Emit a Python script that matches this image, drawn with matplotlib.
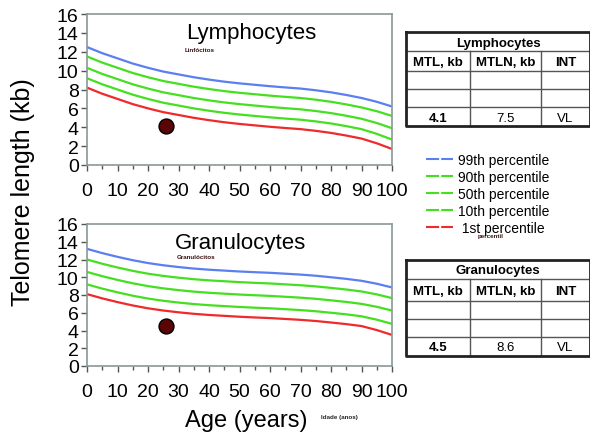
import matplotlib
matplotlib.use("Agg")
import matplotlib.pyplot as plt
from matplotlib.lines import Line2D

plt.rcParams['font.family'] = ['Liberation Sans', 'DejaVu Sans']

ages = [0, 5, 10, 15, 20, 25, 30, 35, 40, 45, 50, 55, 60, 65, 70, 75, 80, 85, 90, 95, 100]
pct_labels = ["99th percentile", "90th percentile", "50th percentile", "10th percentile", " 1st percentile"]
pct_colors = ["#5b7ff0", "#44e020", "#44e020", "#44e020", "#ee2a2a"]

lymph = {
    "99": [12.5, 11.85, 11.3, 10.75, 10.3, 9.9, 9.6, 9.3, 9.05, 8.83, 8.65, 8.5, 8.35, 8.22, 8.1, 7.92, 7.7, 7.42, 7.1, 6.7, 6.2],
    "90": [11.5, 10.85, 10.3, 9.75, 9.3, 8.9, 8.6, 8.3, 8.05, 7.83, 7.65, 7.5, 7.35, 7.22, 7.1, 6.92, 6.7, 6.42, 6.1, 5.7, 5.2],
    "50": [10.3, 9.65, 9.1, 8.55, 8.1, 7.7, 7.4, 7.1, 6.85, 6.63, 6.45, 6.3, 6.15, 6.02, 5.9, 5.72, 5.5, 5.22, 4.9, 4.45, 3.9],
    "10": [9.2, 8.55, 8.0, 7.45, 7.0, 6.6, 6.3, 6.0, 5.75, 5.53, 5.35, 5.2, 5.05, 4.92, 4.8, 4.62, 4.4, 4.12, 3.8, 3.3, 2.7],
    "1":  [8.2, 7.55, 7.0, 6.45, 6.0, 5.6, 5.3, 5.0, 4.75, 4.53, 4.35, 4.2, 4.05, 3.92, 3.8, 3.62, 3.4, 3.12, 2.8, 2.3, 1.7],
}
gran = {
    "99": [13.2, 12.72, 12.3, 11.92, 11.6, 11.35, 11.15, 10.98, 10.85, 10.75, 10.65, 10.57, 10.5, 10.4, 10.3, 10.17, 10.0, 9.82, 9.6, 9.27, 8.85],
    "90": [12.0, 11.52, 11.1, 10.72, 10.4, 10.15, 9.95, 9.78, 9.65, 9.55, 9.45, 9.37, 9.3, 9.2, 9.1, 8.97, 8.8, 8.62, 8.4, 8.07, 7.65],
    "50": [10.6, 10.12, 9.7, 9.32, 9.0, 8.75, 8.55, 8.38, 8.25, 8.15, 8.05, 7.97, 7.9, 7.8, 7.7, 7.57, 7.4, 7.22, 7.0, 6.67, 6.25],
    "10": [9.2, 8.72, 8.3, 7.92, 7.6, 7.35, 7.15, 6.98, 6.85, 6.75, 6.65, 6.57, 6.5, 6.4, 6.3, 6.17, 6.0, 5.82, 5.6, 5.22, 4.75],
    "1":  [8.1, 7.62, 7.2, 6.82, 6.5, 6.25, 6.05, 5.88, 5.75, 5.65, 5.55, 5.47, 5.4, 5.3, 5.2, 5.07, 4.9, 4.72, 4.5, 4.05, 3.5],
}
patient_age = 26
lymph_patient = 4.1
gran_patient = 4.5

table_header = ["MTL, kb", "MTLN, kb", "INT"]
lymph_row = ["4.1", "7.5", "VL"]
gran_row = ["4.5", "8.6", "VL"]

W, H = 590, 435
fig = plt.figure(figsize=(W / 100, H / 100), dpi=100)
fig.patch.set_facecolor("white")


def fr(x0, y0, x1, y1):
    return [x0 / W, 1 - y1 / H, (x1 - x0) / W, (y1 - y0) / H]


frame_col = "#8a9898"


def setup(ax, data, pval, title, subtitle, tx, ty, sx, sy):
    for key, col in zip(["99", "90", "50", "10", "1"], pct_colors):
        ax.plot(ages, data[key], color=col, lw=1.6, solid_capstyle="butt")
    ax.scatter([patient_age], [pval], s=115, color="#5a0505", edgecolor="black",
               linewidth=1.0, zorder=5)
    ax.set_xlim(0, 100)
    ax.set_ylim(0, 16)
    ax.set_xticks(range(0, 101, 10))
    ax.set_xticks(range(0, 101, 5), minor=True)
    ax.set_yticks(range(0, 17, 2))
    for s in ax.spines.values():
        s.set_color(frame_col)
        s.set_linewidth(1.2)
    ax.tick_params(axis="both", which="major", labelsize=14, length=4,
                   width=1, color="#555555", pad=2)
    ax.tick_params(axis="x", which="major", pad=8)
    ax.tick_params(axis="x", which="minor", length=3, width=1, color="#555555")
    fig.text(tx / W, 1 - ty / H, title, fontsize=16, ha="center", va="center")
    fig.text(sx / W, 1 - sy / H, subtitle, fontsize=4.5, fontweight="bold",
             ha="left", va="center", color="#3a1010")


ax1 = fig.add_axes(fr(87, 15, 392, 166))
setup(ax1, lymph, lymph_patient, "Lymphocytes", "Linfócitos", 251, 33, 185, 50)
ax2 = fig.add_axes(fr(87, 225, 392, 367))
setup(ax2, gran, gran_patient, "Granulocytes", "Granulócitos", 240, 244, 177, 258)

fig.text(23 / W, 1 - 192 / H, "Telomere length (kb)", fontsize=18,
         rotation=90, ha="center", va="center")
fig.text(246 / W, 1 - 421 / H, "Age (years)", fontsize=17, ha="center", va="center")
fig.text(321 / W, 1 - 418 / H, "Idade (anos)", fontsize=4.5, fontweight="bold",
         ha="left", va="center", color="#222222")

# legend
handles = [Line2D([0], [0], color=c, lw=1.5, dashes=(6.3, 1.0)) for c in pct_colors]
leg = fig.legend(handles, pct_labels, loc="upper left",
                 bbox_to_anchor=(420 / W, 1 - 148 / H), frameon=False,
                 fontsize=10, handlelength=2.0, handletextpad=0.3,
                 labelspacing=0.22, borderaxespad=0)
fig.text(478 / W, 1 - 237 / H, "percentil", fontsize=4.5, fontweight="bold",
         ha="left", va="center", color="#3a1010")

# tables (overlay in pixel coordinates)
ov = fig.add_axes([0, 0, 1, 1])
ov.set_xlim(0, W)
ov.set_ylim(H, 0)
ov.axis("off")


def draw_table(y_rows, title, row):
    xs = [406, 470, 541, 590]
    x0, x1 = xs[0], xs[-1]
    for y in y_rows[1:-1]:
        ov.plot([x0, x1], [y, y], color="#555555", lw=1.0)
    for x in xs[1:-1]:
        ov.plot([x, x], [y_rows[1], y_rows[-1]], color="#555555", lw=1.0)
    ov.plot([x0, x1, x1, x0, x0], [y_rows[0], y_rows[0], y_rows[-1], y_rows[-1], y_rows[0]],
            color="#222222", lw=2.0)
    ov.text((x0 + x1) / 2, (y_rows[0] + y_rows[1]) / 2 + 1, title, fontsize=9.5,
            fontweight="bold", ha="center", va="center")
    for i, h in enumerate(table_header):
        ov.text((xs[i] + xs[i + 1]) / 2, (y_rows[1] + y_rows[2]) / 2 + 1, h,
                fontsize=9.5, fontweight="bold", ha="center", va="center")
    weights = ["bold", "normal", "normal"]
    for i, v in enumerate(row):
        ov.text((xs[i] + xs[i + 1]) / 2, (y_rows[4] + y_rows[5]) / 2 + 1, v,
                fontsize=9.5, fontweight=weights[i], ha="center", va="center")


draw_table([33, 52, 72, 90, 108, 127], "Lymphocytes", lymph_row)
draw_table([261, 280, 302, 320, 338, 357], "Granulocytes", gran_row)

fig.savefig("out.png", dpi=100)
